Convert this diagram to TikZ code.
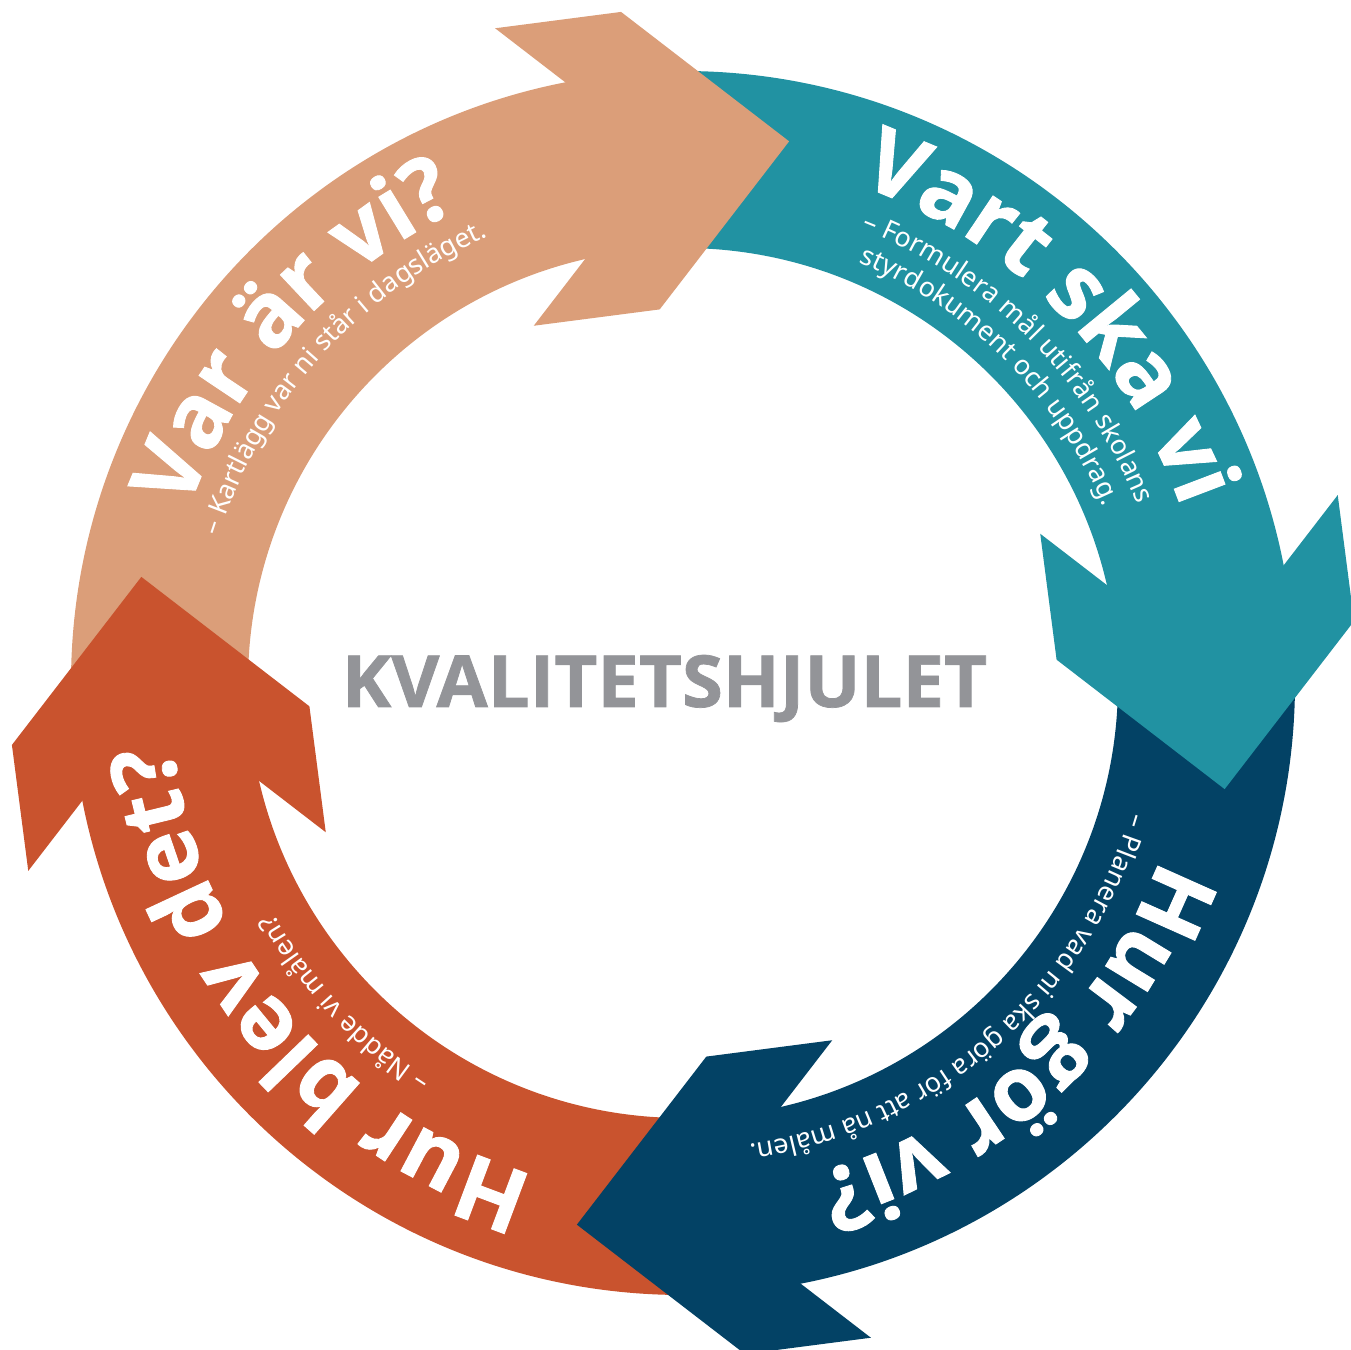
\documentclass[tikz,border=0pt]{standalone}
\usepackage{fontspec}
\setmainfont{Noto Sans}
\newfontfamily\hjulheavy{Open Sans}[BoldFeatures={FakeBold=1}]
\usetikzlibrary{decorations.text}
\definecolor{hjulsand}{HTML}{DB9E79}
\definecolor{hjulteal}{HTML}{2192A2}
\definecolor{hjulnavy}{HTML}{034265}
\definecolor{hjulred}{HTML}{C9532E}
\definecolor{hjulgray}{HTML}{939498}
\newcommand\hjulbig{\hjulheavy\bfseries\fontsize{90}{90}\selectfont}
\newcommand\hjulsmall{\fontsize{27}{27}\selectfont}
\tikzset{
  rubrik/.style={decorate, decoration={text along path, text align=center,
    text color=white, text={|\hjulbig|#1}}},
  underrad/.style={decorate, decoration={text along path, text align=center,
    text color=white, text={|\hjulsmall|#1}}}
}
\begin{document}
\begin{tikzpicture}[x=1pt, y=1pt]
\useasboundingbox (-683,-666) rectangle (668,683);
% ring, one quarter for each step
\foreach \c/\a in {hjulsand/180, hjulteal/90, hjulnavy/0, hjulred/270}
{
    \fill[\c] (\a:612) arc[start angle=\a, end angle=\a-90, radius=612]
        -- (\a-90:435) arc[start angle=\a-90, end angle=\a, radius=435] -- cycle;
}
% arrow heads
\foreach \c/\r in {hjulsand/0, hjulteal/-90, hjulnavy/-180, hjulred/90}
{
    \fill[\c, rotate=\r, shift={(97.4:523.5)}, rotate=7.4]
        (175,0) -- (25,150) -- (-102,150) -- (48,0) -- (-102,-150) -- (25,-150) -- cycle;
}
% texts along the ring
\path[rubrik={Var är vi?}] (183:524) arc[start angle=183, end angle=93, radius=524];
\path[underrad={– Kartlägg var ni står i dagsläget.}] (193:487) arc[start angle=193, end angle=83, radius=487];
\path[rubrik={Vart ska vi}] (90:528) arc[start angle=90, end angle=0, radius=528];
\path[underrad={– Formulera mål utifrån skolans}] (100:488) arc[start angle=100, end angle=-10, radius=488];
\path[underrad={styrdokument och uppdrag.}] (100:456) arc[start angle=100, end angle=-10, radius=456];
\path[rubrik={Hur gör vi?}] (-2.5:508) arc[start angle=-2.5, end angle=-92.5, radius=508];
\path[underrad={– Planera vad ni ska göra för att nå målen.}] (6:466) arc[start angle=6, end angle=-104, radius=466];
\path[rubrik={Hur blev det?}] (265:514) arc[start angle=265, end angle=175, radius=514];
\path[underrad={– Nådde vi målen?}] (268.4:470) arc[start angle=268.4, end angle=178.4, radius=470];
% centre title
\node[anchor=base, inner sep=0pt, text=hjulgray] (titel) at (-18.5,-24)
    {\resizebox{645pt}{52pt}{\hjulheavy\bfseries KVALITETSHJULET}};
\end{tikzpicture}
\end{document}
